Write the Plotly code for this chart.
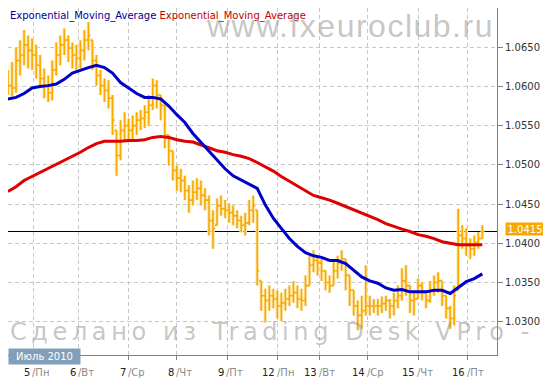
import plotly.graph_objects as go

# ---------------- data (prices in pips, 1 pip = 0.0001) ----------------
day_labels = ["5", "6", "7", "8", "9", "12", "13", "14", "15", "16"]
weekday_labels = ["Пн", "Вт", "Ср", "Чт", "Пт", "Пн", "Вт", "Ср", "Чт", "Пт"]
day_tick_hours = [12.5, 35, 60, 84, 109, 134, 155, 179, 204, 228.5]

close_pips = [10601, 10598, 10633, 10640, 10653, 10646, 10640, 10627, 10610, 10601,
              10592, 10621, 10640, 10653, 10659, 10649, 10640, 10636, 10646, 10659,
              10665, 10633, 10614, 10601, 10595, 10585, 10557, 10512, 10544, 10550,
              10544, 10550, 10557, 10559, 10567, 10576, 10601, 10589, 10576, 10538,
              10518, 10493, 10483, 10480, 10467, 10455, 10465, 10470, 10461, 10455,
              10429, 10419, 10448, 10444, 10442, 10439, 10435, 10429, 10423, 10426,
              10442, 10448, 10365, 10333, 10327, 10333, 10329, 10320, 10324, 10329,
              10333, 10337, 10329, 10327, 10346, 10372, 10378, 10375, 10365, 10350,
              10346, 10365, 10375, 10380, 10359, 10340, 10320, 10308, 10314, 10320,
              10320, 10320, 10320, 10323, 10327, 10320, 10327, 10333, 10352, 10346,
              10327, 10329, 10346, 10337, 10327, 10340, 10350, 10352, 10333, 10317,
              10304, 10333, 10410, 10406, 10397, 10393, 10401, 10406, 10415]

high_pips = [10621, 10631, 10649, 10659, 10672, 10665, 10661, 10653, 10640, 10623,
             10614, 10633, 10656, 10665, 10674, 10665, 10656, 10653, 10659, 10672,
             10682, 10659, 10640, 10621, 10610, 10608, 10589, 10544, 10557, 10567,
             10559, 10563, 10567, 10570, 10576, 10589, 10610, 10608, 10589, 10576,
             10538, 10518, 10499, 10495, 10486, 10474, 10480, 10483, 10480, 10470,
             10461, 10442, 10457, 10461, 10455, 10451, 10448, 10442, 10435, 10439,
             10455, 10461, 10442, 10352, 10342, 10346, 10342, 10340, 10337, 10342,
             10346, 10352, 10346, 10342, 10359, 10384, 10391, 10384, 10380, 10365,
             10359, 10378, 10384, 10391, 10380, 10359, 10340, 10327, 10333, 10372,
             10333, 10329, 10329, 10332, 10333, 10329, 10337, 10346, 10368, 10372,
             10346, 10340, 10355, 10350, 10340, 10352, 10359, 10363, 10352, 10333,
             10320, 10346, 10444, 10423, 10419, 10406, 10410, 10414, 10423]

low_pips = [10589, 10587, 10592, 10614, 10627, 10623, 10621, 10610, 10601, 10585,
            10580, 10582, 10614, 10627, 10640, 10631, 10623, 10621, 10623, 10633,
            10646, 10621, 10601, 10589, 10580, 10572, 10538, 10486, 10506, 10531,
            10529, 10531, 10538, 10544, 10547, 10550, 10570, 10572, 10557, 10521,
            10499, 10480, 10467, 10465, 10455, 10439, 10448, 10455, 10448, 10442,
            10410, 10393, 10423, 10435, 10432, 10426, 10423, 10419, 10414, 10410,
            10423, 10426, 10346, 10314, 10299, 10314, 10317, 10304, 10301, 10314,
            10320, 10324, 10317, 10314, 10320, 10346, 10363, 10359, 10352, 10340,
            10337, 10346, 10355, 10365, 10340, 10320, 10308, 10289, 10291, 10308,
            10308, 10311, 10308, 10311, 10314, 10304, 10308, 10317, 10327, 10333,
            10311, 10308, 10329, 10327, 10317, 10324, 10333, 10337, 10320, 10304,
            10291, 10295, 10340, 10393, 10384, 10380, 10384, 10393, 10406]

ema_fast_pips = [10584, 10586, 10591, 10598, 10600, 10601, 10603, 10609, 10617, 10621,
                 10624, 10627, 10624, 10617, 10605, 10598, 10591, 10586, 10586, 10584,
                 10575, 10564, 10554, 10540, 10529, 10518, 10506, 10495, 10486, 10481,
                 10476, 10470, 10449, 10432, 10419, 10406, 10396, 10388, 10384, 10382,
                 10378, 10378, 10374, 10365, 10357, 10352, 10349, 10343, 10340, 10341,
                 10338, 10338, 10338, 10340, 10340, 10336, 10343, 10351, 10355, 10361]

ema_slow_pips = [10466, 10472, 10480, 10485, 10490, 10495, 10501, 10506, 10511, 10516,
                 10522, 10527, 10530, 10530, 10530, 10531, 10531, 10532, 10535, 10536,
                 10535, 10532, 10530, 10529, 10525, 10522, 10518, 10516, 10513, 10511,
                 10508, 10503, 10498, 10492, 10485, 10479, 10472, 10466, 10461, 10458,
                 10455, 10451, 10447, 10443, 10438, 10434, 10430, 10425, 10421, 10418,
                 10415, 10411, 10409, 10406, 10402, 10400, 10398, 10398, 10398, 10398]

last_price = 1.0415
y_ticks = [1.0300, 1.0350, 1.0400, 1.0450, 1.0500, 1.0550, 1.0600, 1.0650]

# ---------------- derived ----------------
P = 10000.0
bar_hours = [2 * i for i in range(len(close_pips))]
ema_hours = [4 * i for i in range(len(ema_fast_pips))]
close = [c / P for c in close_pips]
high = [h / P for h in high_pips]
low = [l / P for l in low_pips]
open_ = []
for i in range(len(close)):
    prev = close[i - 1] if i > 0 else close[0]
    open_.append(min(max(prev, low[i]), high[i]))

ORANGE = "#f7a900"
GLOW = "#fde9b8"
BLUE = "#0000c8"
RED = "#e00000"
GRID = "#c8c8c8"
FRAME = "#808080"
FONT = "DejaVu Sans"

fig = go.Figure()
# soft halo under the price bars
fig.add_trace(go.Ohlc(
    x=bar_hours, open=open_, high=high, low=low, close=close,
    increasing=dict(line=dict(color=GLOW, width=3.6)),
    decreasing=dict(line=dict(color=GLOW, width=3.6)),
    tickwidth=0.5, showlegend=False, hoverinfo="skip"))
fig.add_trace(go.Ohlc(
    x=bar_hours, open=open_, high=high, low=low, close=close,
    increasing=dict(line=dict(color=ORANGE, width=1.6)),
    decreasing=dict(line=dict(color=ORANGE, width=1.6)),
    tickwidth=0.5, showlegend=False, hoverinfo="skip"))
fig.add_trace(go.Scatter(x=ema_hours, y=[v / P for v in ema_slow_pips], mode="lines",
                         line=dict(color=RED, width=3), showlegend=False, hoverinfo="skip"))
fig.add_trace(go.Scatter(x=ema_hours, y=[v / P for v in ema_fast_pips], mode="lines",
                         line=dict(color=BLUE, width=3), showlegend=False, hoverinfo="skip"))

fig.add_shape(type="line", xref="paper", x0=0, x1=1, yref="y", y0=last_price, y1=last_price,
              line=dict(color="black", width=1), layer="between")

ann = []
# legend
ann.append(dict(xref="paper", yref="paper", x=0, y=1, xanchor="left", yanchor="top",
                xshift=1, yshift=-1, showarrow=False, borderpad=0,
                text="<span style='color:#000090'>Exponential_Moving_Average</span> "
                     "<span style='color:#c00000'>Exponential_Moving_Average</span>",
                font=dict(family=FONT, size=10)))
# watermarks
ann.append(dict(xref="paper", yref="paper", x=1, y=1, xanchor="right", yanchor="top",
                xshift=-2, yshift=1, showarrow=False, borderpad=0,
                text="<span style='letter-spacing:1.5px'>www.fxeuroclub.ru</span>",
                font=dict(family="Liberation Sans", size=32, color="rgba(150,150,150,0.55)")))
ann.append(dict(xref="paper", yref="paper", x=0, y=0, xanchor="left", yanchor="bottom",
                xshift=1, yshift=8, showarrow=False, borderpad=0,
                text="<span style='letter-spacing:4.6px'>Сделано из Trading Desk VPro -</span>",
                font=dict(family=FONT, size=24, color="rgba(150,150,150,0.55)")))
# month box
ann.append(dict(xref="paper", yref="paper", x=0, y=0, xanchor="left", yanchor="middle",
                yshift=-1, showarrow=False, borderpad=0, width=71, height=15,
                bgcolor="#819fba", text="Июль 2010",
                font=dict(family=FONT, size=10, color="white")))
# last price label
ann.append(dict(xref="paper", yref="y", x=1, y=last_price, xanchor="left", yanchor="middle",
                xshift=8, yshift=2, showarrow=False, borderpad=0, width=38, height=12,
                bgcolor=ORANGE, text=f"{last_price:.4f}",
                font=dict(family=FONT, size=10, color="white")))
# day labels: slash centred on tick
for hx, d, w in zip(day_tick_hours, day_labels, weekday_labels):
    ann.append(dict(xref="x", yref="paper", x=hx, y=0, xanchor="right", yanchor="middle",
                    xshift=-1.7, yshift=-17, showarrow=False, borderpad=0, text=d,
                    font=dict(family=FONT, size=10, color="#222222")))
    ann.append(dict(xref="x", yref="paper", x=hx, y=0, xanchor="left", yanchor="middle",
                    xshift=-1.7, yshift=-17, showarrow=False, borderpad=0, text="/" + w,
                    font=dict(family=FONT, size=10, color="#8a8a8a")))

# the page body has an 8px default margin, so the figure is sized to fill the rest
fig.update_layout(
    width=543, height=377,
    margin=dict(l=0, r=54, t=0, b=30),
    paper_bgcolor="white", plot_bgcolor="white",
    showlegend=False,
    annotations=ann,
    xaxis=dict(range=[0, 243.3], tickvals=day_tick_hours, showticklabels=False,
               showgrid=True, gridcolor=GRID, griddash="4px,3px", gridwidth=1,
               ticks="outside", ticklen=4, tickcolor=FRAME,
               showline=True, linecolor=FRAME, linewidth=1, mirror=True,
               zeroline=False, rangeslider=dict(visible=False)),
    yaxis=dict(side="right", range=[1.02575, 1.0700], tickvals=y_ticks, tickformat=".4f",
               showgrid=True, gridcolor=GRID, griddash="4px,3px", gridwidth=1,
               ticks="outside", ticklen=5, tickcolor=FRAME,
               showline=True, linecolor=FRAME, linewidth=1, mirror=True, zeroline=False,
               tickfont=dict(family=FONT, size=10, color="#333333")),
)

fig.write_html("out.html")
